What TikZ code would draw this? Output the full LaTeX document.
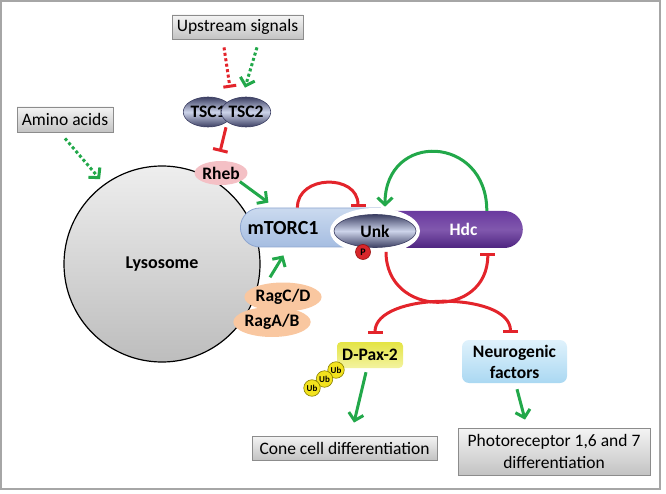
\documentclass[tikz,border=0pt]{standalone}
\usepackage{fontspec}
\setmainfont{Carlito}
\usetikzlibrary{arrows.meta,shapes.geometric,shapes.misc}
\definecolor{grn}{HTML}{22A84A}
\definecolor{rd}{HTML}{E3242B}
\definecolor{framegray}{HTML}{A6A6A6}
\definecolor{boxborder}{HTML}{8C8C8C}
\definecolor{boxtop}{HTML}{F4F4F4}
\definecolor{boxbot}{HTML}{C3C3C3}
\definecolor{lystop}{HTML}{EEEEEE}
\definecolor{lysbot}{HTML}{BDBDBD}
\definecolor{rhebpink}{HTML}{F4C0C5}
\definecolor{ragpeach}{HTML}{F9C7A0}
\definecolor{mttop}{HTML}{CBDAEF}
\definecolor{mtbot}{HTML}{A5BDE1}
\definecolor{mtborder}{HTML}{8DA5CF}
\definecolor{unkdark}{HTML}{3C3F63}
\definecolor{unklight}{HTML}{CDD4EA}
\definecolor{hdctop}{HTML}{6A3A9F}
\definecolor{hdcbot}{HTML}{4E2480}
\definecolor{paxtop}{HTML}{E4E444}
\definecolor{paxbot}{HTML}{F3F3A0}
\definecolor{neutop}{HTML}{E0F2FC}
\definecolor{neubot}{HTML}{AAD8F2}
\definecolor{ubfill}{HTML}{F2E21E}
\definecolor{ubdraw}{HTML}{8A8000}
\definecolor{pfill}{HTML}{D7262B}
\definecolor{pdraw}{HTML}{9A1010}
\tikzset{
  graybox/.style={draw=boxborder, line width=0.8pt, top color=boxtop, bottom color=boxbot,
    font=\fontsize{17.5}{22}\selectfont, inner sep=0pt, align=center},
  boldlbl/.style={font=\bfseries\fontsize{17.5}{20}\selectfont, inner sep=0pt},
  darkball/.style={ellipse, draw=unkdark, line width=0.6pt, top color=unkdark, bottom color=unkdark,
    middle color=unklight, inner sep=0pt, font=\bfseries\fontsize{17.5}{20}\selectfont},
  garrow/.style={draw=grn, line width=3pt, -{Straight Barb[length=7pt,width=15pt]}},
  gdotarrow/.style={draw=grn, line width=3pt, dash pattern=on 3pt off 2.5pt, -{Straight Barb[length=7pt,width=15pt]}},
  rbar/.style={draw=rd, line width=3pt, -{Bar[width=15pt,line width=3pt]}},
  rdotbar/.style={draw=rd, line width=3pt, dash pattern=on 3pt off 2.5pt, -{Bar[width=13pt,line width=3pt]}},
  ubball/.style={circle, fill=ubfill, draw=ubdraw, line width=0.6pt, minimum size=16.5pt, inner sep=0pt,
    font=\bfseries\fontsize{9}{10}\selectfont}
}
\begin{document}
\begin{tikzpicture}[x=1pt,y=-1pt]
\useasboundingbox (0,0) rectangle (666,494);
\draw[framegray, line width=2pt] (1,1) rectangle (660,489);

% boxes
\node[graybox, minimum width=131, minimum height=24] (up) at (237.5,27) {Upstream signals};
\node[graybox, minimum width=96, minimum height=25] (amino) at (65,119.5) {Amino acids};
\node[graybox, minimum width=185, minimum height=24] (cone) at (344.5,448) {Cone cell differentiation};
\node[graybox, minimum width=192, minimum height=47] (photo) at (554,451.5) {Photoreceptor 1,6 and 7\\differentiation};

% lysosome
\node[circle, draw=black, line width=1.2pt, top color=lystop, bottom color=lysbot, minimum size=196, inner sep=0pt,
  font=\bfseries\fontsize{18}{20}\selectfont] (lyso) at (162,264) {Lysosome};

% TSC
\node[darkball, minimum width=39, minimum height=30] (tsc1) at (208,112) {TSC1};
\node[darkball, minimum width=40, minimum height=30] (tsc2) at (246,112) {TSC2};

% Rheb
\node[ellipse, fill=rhebpink, minimum width=42, minimum height=24, inner sep=0pt,
  font=\bfseries\fontsize{17.5}{20}\selectfont] (rheb) at (221,173) {Rheb};

% Rags
\node[ellipse, fill=ragpeach, minimum width=60, minimum height=29, inner sep=0pt,
  font=\bfseries\fontsize{17.5}{20}\selectfont] (ragcd) at (283,297) {RagC/D};
\node[ellipse, fill=ragpeach, minimum width=64, minimum height=30, inner sep=0pt,
  font=\bfseries\fontsize{17.5}{20}\selectfont] (ragab) at (272,322) {RagA/B};

% mTORC1 / Hdc bar
\node[rounded rectangle, rounded rectangle right arc=none, draw=mtborder, line width=0.8pt,
  top color=mttop, bottom color=mtbot, minimum width=140, minimum height=39, inner sep=0pt, anchor=west] (mtorc) at (240,227.5) {};
\node[boldlbl, font=\bfseries\fontsize{20}{22}\selectfont] (mtlbl) at (283,228) {mTORC1};
\node[rounded rectangle, rounded rectangle left arc=none, top color=hdctop, bottom color=hdcbot, middle color=hdctop!85!white,
  minimum width=150, minimum height=37, inner sep=0pt, anchor=east] (hdc) at (523,229.5) {};
\node[boldlbl, text=white] (hdclbl) at (463.5,229) {Hdc};

% Unk with white halo
\fill[white] (375,231) ellipse [x radius=45, y radius=23];
\node[darkball, minimum width=82, minimum height=33] (unk) at (375,231) {Unk};
\node[circle, fill=pfill, draw=pdraw, line width=0.6pt, minimum size=15pt, inner sep=0pt,
  font=\bfseries\fontsize{10}{11}\selectfont] (p) at (363,252) {P};

% D-Pax-2 and Neurogenic factors
\node[rounded corners=4pt, top color=paxtop, bottom color=paxbot, minimum width=66, minimum height=26, inner sep=0pt,
  font=\bfseries\fontsize{17.5}{20}\selectfont] (dpax) at (370,355) {D-Pax-2};
\node[rounded corners=7pt, top color=neutop, bottom color=neubot, minimum width=105, minimum height=43, inner sep=0pt,
  align=center, font=\bfseries\fontsize{17.5}{21}\selectfont] (neuro) at (514.5,361.5) {Neurogenic\\factors};

% Ub chain
\node[ubball] (ub1) at (336,370) {Ub};
\node[ubball] (ub2) at (324.5,379) {Ub};
\node[ubball] (ub3) at (312,388) {Ub};

% connectors
\draw[rdotbar] ([shift={(-13.5pt,-8pt)}]up.south) -- ([shift={(22pt,9pt)}]tsc1.north);
\draw[gdotarrow] ([shift={(19.5pt,-8pt)}]up.south) -- ([shift={(-1pt,9pt)}]tsc2.north);
\draw[rbar] ([xshift=18pt]tsc1.south) -- ([shift={(-1pt,9pt)}]rheb.north);
\draw[gdotarrow] ([yshift=-6pt]amino.south) -- ([shift={(-4pt,5pt)}]lyso.126);
\draw[garrow] (rheb.south east) -- ([shift={(-42pt,5pt)}]mtorc.north);
\draw[garrow] ([shift={(-13pt,5pt)}]ragcd.north) -- ([shift={(-27pt,-8pt)}]mtorc.south);
\draw[rbar] ([xshift=-13pt]mtorc.north) .. controls +(0,-33) and +(0,-33) .. ([shift={(-17pt,7.5pt)}]unk.north);
\draw[garrow] ([xshift=39pt]hdc.north) .. controls +(0,-76) and +(0,-76) .. ([shift={(10pt,7.5pt)}]unk.north);
\draw[rbar] ([shift={(11pt,-4pt)}]unk.south) .. controls +(0,66) and +(0,66) .. ([shift={(40pt,-5pt)}]hdc.south);
\draw[draw=rd, line width=3pt, {Bar[width=15pt,line width=3pt]}-{Bar[width=15pt,line width=3pt]}]
  ([shift={(5pt,8pt)}]dpax.north) .. controls +(0,-42) and +(0,-42) .. ([shift={(-4pt,7pt)}]neuro.north);
\draw[garrow] ([shift={(-4pt,-4pt)}]dpax.south) -- ([shift={(9.5pt,13pt)}]cone.north);
\draw[garrow] ([shift={(2.5pt,-6pt)}]neuro.south) -- ([shift={(-29pt,8pt)}]photo.north);
\end{tikzpicture}
\end{document}
